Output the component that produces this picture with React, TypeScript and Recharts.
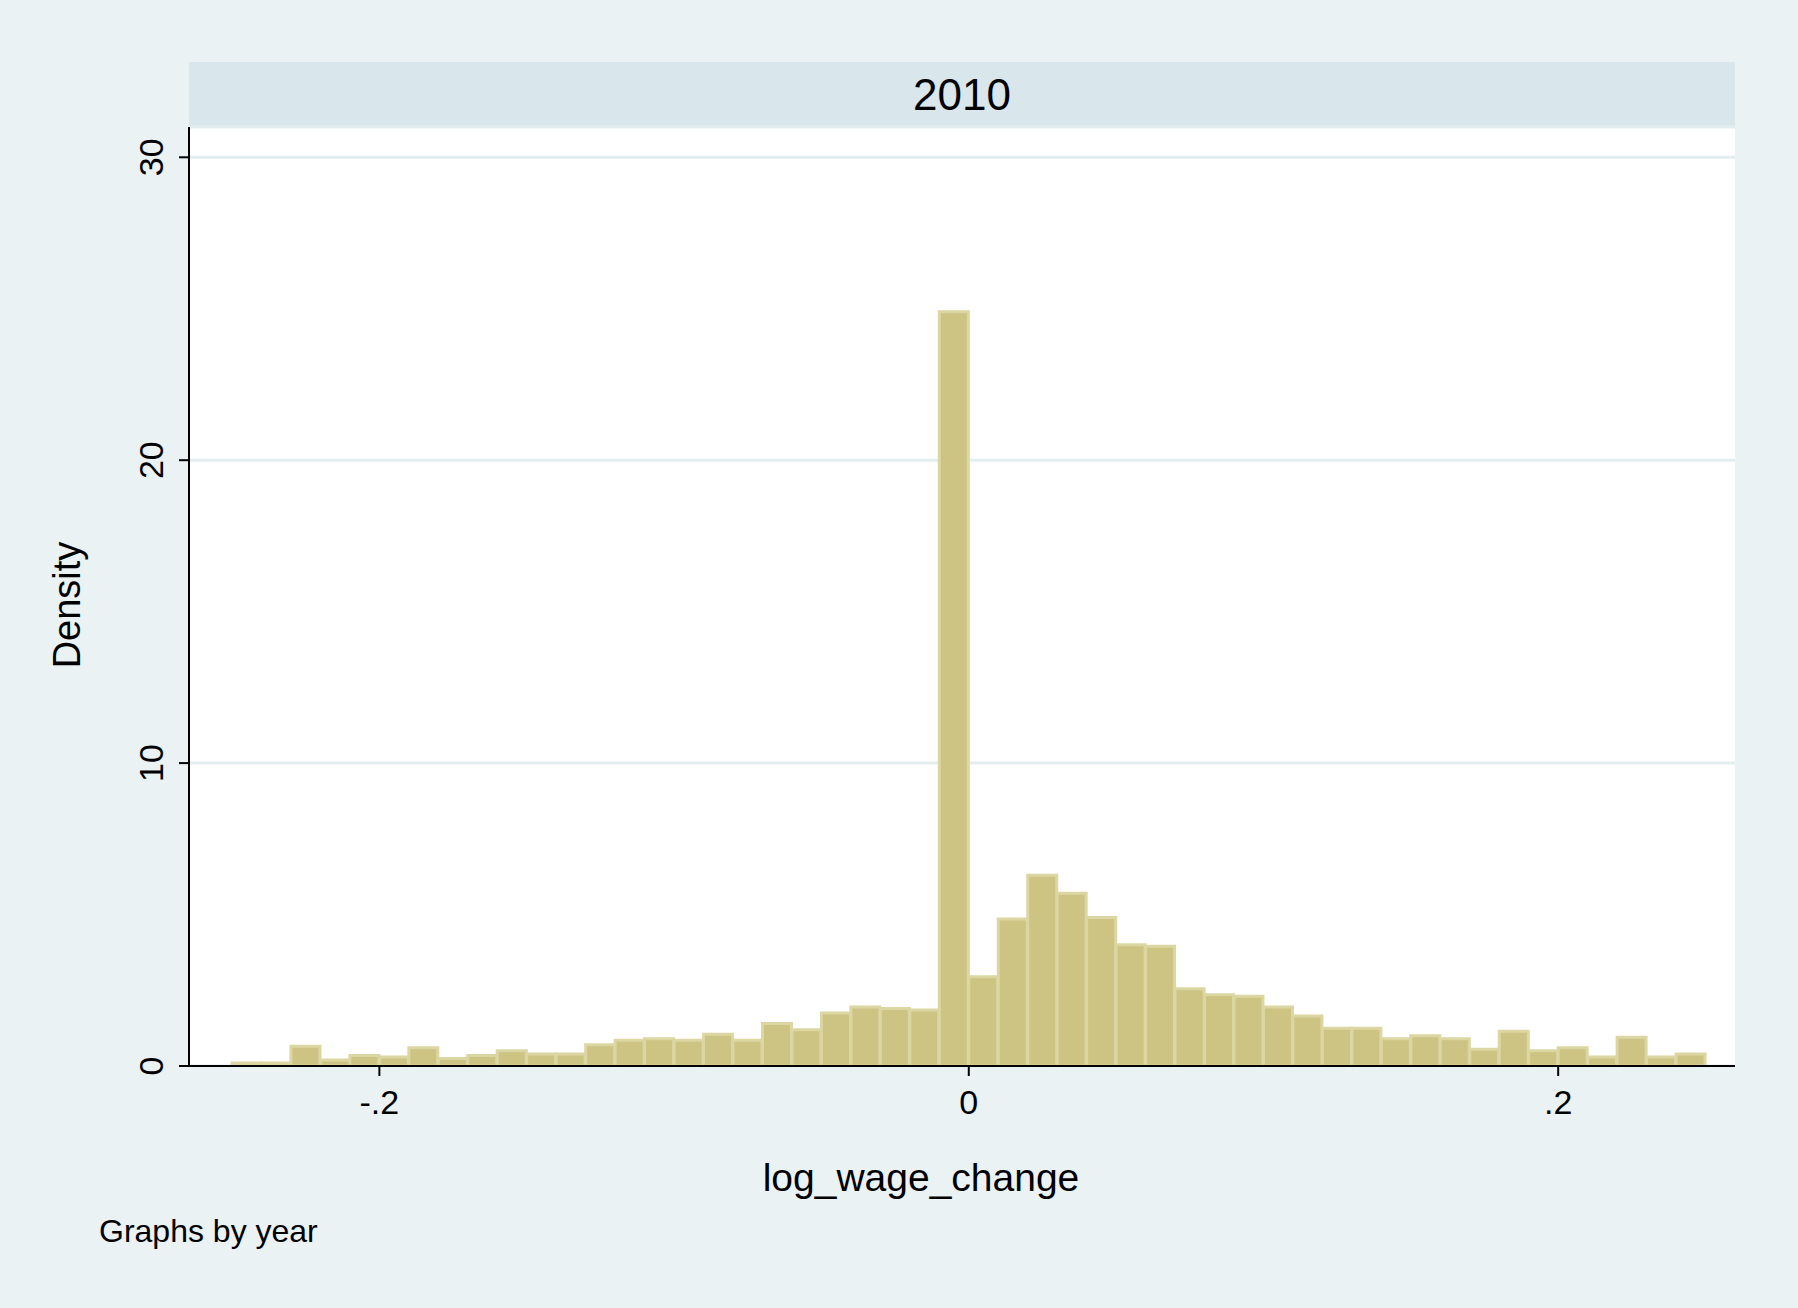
import React from "react";
import { ComposedChart, Bar, XAxis, YAxis, CartesianGrid } from "recharts";

const binCenters = [
  -0.245, -0.235, -0.225, -0.215, -0.205, -0.195, -0.185, -0.175, -0.165, -0.155,
  -0.145, -0.135, -0.125, -0.115, -0.105, -0.095, -0.085, -0.075, -0.065, -0.055,
  -0.045, -0.035, -0.025, -0.015, -0.005, 0.005, 0.015, 0.025, 0.035, 0.045,
  0.055, 0.065, 0.075, 0.085, 0.095, 0.105, 0.115, 0.125, 0.135, 0.145,
  0.155, 0.165, 0.175, 0.185, 0.195, 0.205, 0.215, 0.225, 0.235, 0.245,
];
const densities = [
  0.1, 0.1, 0.65, 0.2, 0.35, 0.3, 0.6, 0.25, 0.35, 0.5,
  0.4, 0.4, 0.7, 0.85, 0.9, 0.85, 1.05, 0.85, 1.4, 1.2,
  1.75, 1.95, 1.9, 1.85, 24.9, 2.95, 4.85, 6.3, 5.7, 4.9,
  4.0, 3.95, 2.55, 2.35, 2.3, 1.95, 1.65, 1.25, 1.25, 0.9,
  1.0, 0.9, 0.55, 1.15, 0.5, 0.6, 0.3, 0.95, 0.3, 0.4,
];
const xTicks = [-0.2, 0, 0.2];
const xTickLabels = ["-.2", "0", ".2"];
const yTicks = [0, 10, 20, 30];

const data = binCenters.map((x, i) => ({ x, d: densities[i] }));
const font = "'Liberation Sans', Arial, sans-serif";

const YTick = (props: any) => {
  const { x, y, payload } = props;
  return (
    <text x={x - 14} y={y} transform={`rotate(-90 ${x - 14} ${y})`} textAnchor="middle"
      fontSize={34} fontFamily={font} fill="#000">{payload.value}</text>
  );
};
const XTick = (props: any) => {
  const { x, y, payload } = props;
  const i = xTicks.indexOf(payload.value);
  return (
    <text x={x} y={y + 36} textAnchor="middle" fontSize={34} fontFamily={font} fill="#000">
      {xTickLabels[i]}
    </text>
  );
};

export default function App() {
  return (
    <div style={{ position: "fixed", left: 0, top: 0, width: 1798, height: 1308, background: "#eaf2f3" }}>
      <div style={{ position: "absolute", left: 189, top: 62, width: 1546, height: 65, background: "#d9e6eb",
        display: "flex", alignItems: "center", justifyContent: "center", fontFamily: font, fontSize: 44 }}>2010</div>
      <div style={{ position: "absolute", left: 99, top: 1213, fontFamily: font, fontSize: 32 }}>Graphs by year</div>
      <div style={{ position: "absolute", left: 0, top: 1156, width: 1842, textAlign: "center", fontFamily: font, fontSize: 39 }}>log_wage_change</div>
      <div style={{ position: "absolute", left: 67, top: 605, transform: "translate(-50%,-50%) rotate(-90deg)", fontFamily: font, fontSize: 38 }}>Density</div>
      <div style={{ position: "absolute", left: 189, top: 127, width: 1546, height: 939, background: "#fff" }} />
      <div style={{ position: "absolute", left: 0, top: 0 }}>
        <ComposedChart width={1798} height={1308} data={data}
          margin={{ top: 127, left: 89, right: 63, bottom: 142 }}>
          <CartesianGrid vertical={false} stroke="#e3edf0" strokeWidth={3} />
          <XAxis dataKey="x" type="number" domain={[-0.2646, 0.26]} ticks={xTicks} height={100}
            allowDataOverflow tick={<XTick />} tickSize={10} stroke="#000" strokeWidth={2} />
          <YAxis type="number" domain={[0, 31]} ticks={yTicks} width={100} allowDataOverflow
            tick={<YTick />} tickSize={10} stroke="#000" strokeWidth={2} />
          <Bar dataKey="d" barSize={29} fill="#cdc383" stroke="#dcd6a2" strokeWidth={3} isAnimationActive={false} />
        </ComposedChart>
      </div>
    </div>
  );
}
